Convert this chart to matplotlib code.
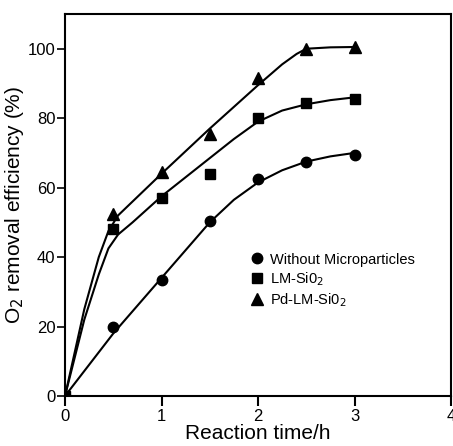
import matplotlib
matplotlib.use("Agg")
import matplotlib.pyplot as plt

# measured points
t = [0, 0.5, 1, 1.5, 2, 2.5, 3]
without_mp = [0, 20, 33.5, 50.5, 62.5, 67.5, 69.5]
lm_sio2 = [0, 48, 57, 64, 80, 84.5, 85.5]
pd_lm_sio2 = [0, 52.5, 64.5, 75.5, 91.5, 100, 100.5]

# hand-drawn trend curves
curve_t_c = [0, 0.5, 1, 1.5, 1.75, 2, 2.25, 2.5, 2.75, 3]
curve_c = [0, 18, 34, 50, 56.5, 61.5, 65, 67.5, 69, 70]
curve_t_s = [0, 0.2, 0.35, 0.45, 0.55, 0.7, 1, 1.5, 1.75, 2, 2.25, 2.5, 2.75, 3]
curve_s = [0, 22, 35, 42.5, 46.5, 50, 57.5, 68.5, 74, 79, 82.2, 84, 85.2, 86]
curve_t_p = [0, 0.2, 0.35, 0.45, 0.55, 0.7, 1, 1.5, 2, 2.25, 2.4, 2.5, 2.75, 3]
curve_p = [0, 25, 40, 47.5, 52, 56, 64, 77, 89.5, 95.5, 98.5, 100, 100.4, 100.5]

names = ["Without Microparticles", "LM-Si0$_2$", "Pd-LM-Si0$_2$"]

fig = plt.figure(figsize=(4.53, 4.46), dpi=100)
ax = fig.add_axes([0.1435, 0.1121, 0.8521, 0.8565])

ax.plot(curve_t_c, curve_c, color="black", lw=1.5)
ax.plot(curve_t_s, curve_s, color="black", lw=1.5)
ax.plot(curve_t_p, curve_p, color="black", lw=1.5)

ax.plot(t, without_mp, "o", color="black", ms=7.5, label=names[0])
ax.plot(t, lm_sio2, "s", color="black", ms=7, label=names[1])
ax.plot(t, pd_lm_sio2, "^", color="black", ms=8, label=names[2])

ax.set_xlim(0, 4)
ax.set_ylim(0, 110)
ax.set_xticks([0, 1, 2, 3, 4])
ax.set_yticks([0, 20, 40, 60, 80, 100])
ax.tick_params(axis="x", direction="out", length=7, width=1.5, labelsize=12, pad=2)
ax.tick_params(axis="y", direction="out", length=6, width=1.2, labelsize=12, pad=1)
for lab in ax.get_xticklabels() + ax.get_yticklabels():
    lab.set_family("Liberation Sans")
for s in ax.spines.values():
    s.set_linewidth(1.5)

ax.set_xlabel("Reaction time/h", fontsize=15, family="Liberation Sans", labelpad=0)
ax.set_ylabel("O$_2$ removal efficiency (%)", fontsize=15, family="Liberation Sans", labelpad=1)

leg = ax.legend(loc="upper left", bbox_to_anchor=(0.445, 0.41), frameon=False,
                prop={"family": "Liberation Sans", "size": 10.5}, handletextpad=0.4,
                handlelength=1.0, labelspacing=0.25)

fig.savefig("out.png", dpi=100)
